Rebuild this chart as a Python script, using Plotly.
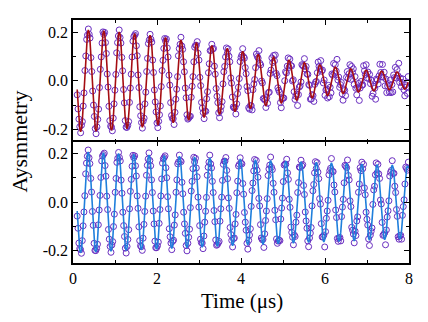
import plotly.graph_objects as go

# ---------------- top panel (time in microseconds) ----------------
t_top = [
.100,.120,.141,.161,.182,.202,.223,.243,.263,.284,.304,.325,.345,.365,.386,.406,.427,.447,
.468,.488,.508,.529,.549,.570,.590,.610,.631,.651,.672,.692,.713,.733,.753,.774,.794,.815,
.835,.855,.876,.896,.917,.937,.958,.978,.998,1.019,1.039,1.060,1.080,1.100,1.121,1.141,1.162,1.182,
1.203,1.223,1.243,1.264,1.284,1.305,1.325,1.345,1.366,1.386,1.407,1.427,1.448,1.468,1.488,1.509,1.529,1.550,
1.570,1.590,1.611,1.631,1.652,1.672,1.693,1.713,1.733,1.754,1.774,1.795,1.815,1.835,1.856,1.876,1.897,1.917,
1.938,1.958,1.978,1.999,2.019,2.040,2.060,2.080,2.101,2.121,2.142,2.162,2.183,2.203,2.223,2.244,2.264,2.285,
2.305,2.325,2.346,2.366,2.387,2.407,2.428,2.448,2.468,2.489,2.509,2.530,2.550,2.570,2.591,2.611,2.632,2.652,
2.673,2.693,2.713,2.734,2.754,2.775,2.795,2.815,2.836,2.856,2.877,2.897,2.918,2.938,2.958,2.979,2.999,3.020,
3.040,3.060,3.081,3.101,3.122,3.142,3.163,3.183,3.203,3.224,3.244,3.265,3.285,3.305,3.326,3.346,3.367,3.387,
3.408,3.428,3.448,3.469,3.489,3.510,3.530,3.550,3.571,3.591,3.612,3.632,3.653,3.673,3.693,3.714,3.734,3.755,
3.775,3.795,3.816,3.836,3.857,3.877,3.898,3.918,3.938,3.959,3.979,4.000,4.020,4.040,4.061,4.081,4.102,4.122,
4.143,4.163,4.183,4.204,4.224,4.245,4.265,4.285,4.306,4.326,4.347,4.367,4.388,4.408,4.428,4.449,4.469,4.490,
4.510,4.530,4.551,4.571,4.592,4.612,4.633,4.653,4.673,4.694,4.714,4.735,4.755,4.775,4.796,4.816,4.837,4.857,
4.878,4.898,4.918,4.939,4.959,4.980,5.000,5.020,5.041,5.061,5.082,5.102,5.123,5.143,5.163,5.184,5.204,5.225,
5.245,5.265,5.286,5.306,5.327,5.347,5.368,5.388,5.408,5.429,5.449,5.470,5.490,5.510,5.531,5.551,5.572,5.592,
5.613,5.633,5.653,5.674,5.694,5.715,5.735,5.755,5.776,5.796,5.817,5.837,5.858,5.878,5.898,5.919,5.939,5.960,
5.980,6.000,6.021,6.041,6.062,6.082,6.103,6.123,6.143,6.164,6.184,6.205,6.225,6.245,6.266,6.286,6.307,6.327,
6.348,6.368,6.388,6.409,6.429,6.450,6.470,6.490,6.511,6.531,6.552,6.572,6.593,6.613,6.633,6.654,6.674,6.695,
6.715,6.735,6.756,6.776,6.797,6.817,6.838,6.858,6.878,6.899,6.919,6.940,6.960,6.980,7.001,7.021,7.042,7.062,
7.083,7.103,7.123,7.144,7.164,7.185,7.205,7.225,7.246,7.266,7.287,7.307,7.328,7.348,7.368,7.389,7.409,7.430,
7.450,7.470,7.491,7.511,7.532,7.552,7.573,7.593,7.613,7.634,7.654,7.675,7.695,7.715,7.736,7.756,7.777,7.797,
7.818,7.838,7.858,7.879,7.899,7.920,7.940,7.960,7.981]

asym_top = [
-.058,-.116,-.158,-.189,-.214,-.183,-.168,-.104,-.050,.042,.102,.170,.188,.213,.191,.176,.095,.038,
-.042,-.100,-.147,-.197,-.218,-.190,-.159,-.117,-.028,.047,.098,.155,.201,.191,.199,.157,.112,.028,
-.026,-.105,-.164,-.187,-.191,-.206,-.154,-.095,-.039,.026,.115,.157,.184,.209,.178,.155,.096,.041,
-.036,-.091,-.164,-.191,-.192,-.183,-.168,-.089,-.030,.027,.098,.163,.182,.187,.194,.144,.103,.024,
-.028,-.107,-.144,-.172,-.195,-.166,-.154,-.095,-.047,.038,.092,.153,.168,.191,.171,.159,.085,.034,
-.038,-.087,-.128,-.174,-.193,-.167,-.140,-.104,-.024,.042,.084,.133,.174,.163,.172,.135,.098,.023,
-.018,-.090,-.143,-.155,-.156,-.180,-.130,-.076,-.035,.017,.103,.132,.150,.179,.143,.129,.078,.037,
-.030,-.070,-.140,-.158,-.154,-.148,-.146,-.068,-.023,.017,.078,.138,.146,.146,.161,.113,.085,.014,
-.020,-.089,-.112,-.131,-.156,-.124,-.126,-.074,-.045,.033,.070,.124,.125,.150,.130,.133,.060,.027,
-.032,-.064,-.090,-.132,-.152,-.123,-.106,-.086,-.013,.037,.059,.098,.135,.113,.131,.101,.078,.012,
-.010,-.067,-.108,-.112,-.110,-.137,-.095,-.053,-.027,.009,.079,.096,.106,.132,.099,.093,.054,.029,
-.024,-.041,-.111,-.117,-.102,-.103,-.120,-.037,-.013,.005,.054,.110,.100,.093,.124,.072,.065,-.001,
-.009,-.073,-.074,-.080,-.110,-.069,-.093,-.049,-.047,.030,.044,.094,.075,.104,.082,.106,.030,.021,
-.029,-.039,-.047,-.090,-.111,-.075,-.070,-.071,.000,.037,.032,.060,.094,.055,.089,.063,.061,-.001,
.004,-.045,-.077,-.064,-.055,-.102,-.057,-.026,-.021,-.005,.066,.062,.059,.091,.048,.059,.028,.026,
-.016,-.019,-.076,-.075,-.057,-.061,-.085,-.015,-.005,-.003,.033,.077,.059,.049,.083,.039,.044,-.009,
.003,-.060,-.038,-.034,-.071,-.019,-.066,-.027,-.050,.028,.023,.071,.030,.066,.040,.088,.003,.015,
-.027,-.016,-.007,-.054,-.080,-.034,-.040,-.061,.014,.038,.009,.029,.066,.006,.059,.034,.049,-.015,
.017,-.031,-.058,-.028,-.011,-.081,-.030,-.003,-.018,-.017,.062,.041,.026,.066,.011,.036,.009,.026,
-.012,.002,-.064,-.052,-.023,-.031,-.076,.007,.003,-.013,.020,.068,.034,.016,.067,.015,.035,-.021,
.007,-.049,-.021,-.012,-.047,.003,-.049,-.016,-.046,.024,.013,.055,.011,.046,.021,.072,-.007,.011,
-.024,-.007,.007,-.037,-.062,-.017,-.026,-.052,.017]

fit_top = [
-.036,-.105,-.161,-.197,-.210,-.197,-.161,-.105,-.036,.036,.104,.160,.196,.209,.196,.160,.104,.036,
-.036,-.104,-.159,-.195,-.208,-.195,-.159,-.104,-.036,.036,.103,.158,.194,.206,.194,.158,.103,.036,
-.035,-.102,-.156,-.192,-.204,-.192,-.156,-.102,-.035,.035,.101,.154,.189,.201,.189,.154,.101,.035,
-.034,-.099,-.152,-.186,-.198,-.186,-.152,-.099,-.034,.034,.098,.149,.183,.195,.183,.149,.098,.034,
-.033,-.096,-.147,-.180,-.191,-.180,-.147,-.096,-.033,.032,.094,.143,.176,.187,.176,.143,.094,.032,
-.032,-.091,-.140,-.172,-.183,-.172,-.140,-.091,-.032,.031,.089,.136,.167,.178,.167,.136,.089,.031,
-.030,-.086,-.132,-.162,-.173,-.162,-.132,-.086,-.030,.029,.084,.128,.157,.168,.157,.128,.084,.029,
-.028,-.081,-.124,-.152,-.162,-.152,-.124,-.081,-.028,.027,.078,.120,.147,.157,.147,.120,.078,.027,
-.026,-.075,-.116,-.142,-.151,-.142,-.116,-.075,-.026,.025,.072,.111,.136,.145,.136,.111,.072,.025,
-.024,-.069,-.106,-.130,-.139,-.130,-.106,-.069,-.024,.023,.066,.102,.125,.133,.125,.102,.066,.023,
-.022,-.063,-.097,-.119,-.127,-.119,-.097,-.063,-.022,.021,.060,.092,.113,.121,.113,.092,.060,.021,
-.020,-.057,-.088,-.108,-.115,-.108,-.088,-.057,-.020,.019,.054,.083,.102,.109,.102,.083,.054,.019,
-.018,-.051,-.079,-.096,-.103,-.096,-.079,-.051,-.018,.017,.048,.074,.091,.097,.091,.074,.048,.017,
-.016,-.046,-.070,-.086,-.091,-.086,-.070,-.046,-.016,.015,.043,.065,.080,.086,.080,.065,.043,.015,
-.014,-.040,-.061,-.075,-.080,-.075,-.061,-.040,-.014,.013,.037,.057,.070,.075,.070,.057,.037,.013,
-.012,-.035,-.053,-.066,-.070,-.066,-.053,-.035,-.012,.011,.033,.050,.061,.065,.061,.050,.033,.011,
-.010,-.030,-.046,-.057,-.061,-.057,-.046,-.030,-.010,.010,.028,.043,.053,.056,.053,.043,.028,.010,
-.009,-.026,-.040,-.049,-.052,-.049,-.040,-.026,-.009,.008,.024,.037,.046,.049,.046,.037,.024,.008,
-.008,-.023,-.035,-.043,-.046,-.043,-.035,-.023,-.008,.008,.022,.033,.041,.043,.041,.033,.022,.008,
-.007,-.021,-.031,-.039,-.041,-.039,-.031,-.021,-.007,.007,.020,.030,.037,.039,.037,.030,.020,.007,
-.006,-.019,-.029,-.035,-.037,-.035,-.029,-.019,-.006,.006,.018,.027,.034,.036,.034,.027,.018,.006,
-.006,-.017,-.026,-.032,-.034,-.032,-.026,-.017,-.006]

# ---------------- bottom panel ----------------
t_bot = [
.100,.120,.140,.160,.180,.201,.221,.241,.261,.281,.301,.321,.341,.361,.382,.402,.422,.442,
.462,.482,.502,.522,.542,.563,.583,.603,.623,.643,.663,.683,.703,.723,.744,.764,.784,.804,
.824,.844,.864,.884,.904,.925,.945,.965,.985,1.005,1.025,1.045,1.065,1.085,1.106,1.126,1.146,1.166,
1.186,1.206,1.226,1.246,1.266,1.287,1.307,1.327,1.347,1.367,1.387,1.407,1.427,1.447,1.468,1.488,1.508,1.528,
1.548,1.568,1.588,1.608,1.628,1.649,1.669,1.689,1.709,1.729,1.749,1.769,1.789,1.809,1.830,1.850,1.870,1.890,
1.910,1.930,1.950,1.970,1.990,2.011,2.031,2.051,2.071,2.091,2.111,2.131,2.151,2.171,2.192,2.212,2.232,2.252,
2.272,2.292,2.312,2.332,2.352,2.373,2.393,2.413,2.433,2.453,2.473,2.493,2.513,2.533,2.554,2.574,2.594,2.614,
2.634,2.654,2.674,2.694,2.714,2.735,2.755,2.775,2.795,2.815,2.835,2.855,2.875,2.895,2.916,2.936,2.956,2.976,
2.996,3.016,3.036,3.056,3.076,3.097,3.117,3.137,3.157,3.177,3.197,3.217,3.237,3.257,3.278,3.298,3.318,3.338,
3.358,3.378,3.398,3.418,3.438,3.459,3.479,3.499,3.519,3.539,3.559,3.579,3.599,3.619,3.640,3.660,3.680,3.700,
3.720,3.740,3.760,3.780,3.800,3.821,3.841,3.861,3.881,3.901,3.921,3.941,3.961,3.981,4.002,4.022,4.042,4.062,
4.082,4.102,4.122,4.142,4.162,4.183,4.203,4.223,4.243,4.263,4.283,4.303,4.323,4.343,4.364,4.384,4.404,4.424,
4.444,4.464,4.484,4.504,4.524,4.545,4.565,4.585,4.605,4.625,4.645,4.665,4.685,4.705,4.726,4.746,4.766,4.786,
4.806,4.826,4.846,4.866,4.886,4.907,4.927,4.947,4.967,4.987,5.007,5.027,5.047,5.067,5.088,5.108,5.128,5.148,
5.168,5.188,5.208,5.228,5.248,5.269,5.289,5.309,5.329,5.349,5.369,5.389,5.409,5.429,5.450,5.470,5.490,5.510,
5.530,5.550,5.570,5.590,5.610,5.631,5.651,5.671,5.691,5.711,5.731,5.751,5.771,5.791,5.812,5.832,5.852,5.872,
5.892,5.912,5.932,5.952,5.972,5.993,6.013,6.033,6.053,6.073,6.093,6.113,6.133,6.153,6.174,6.194,6.214,6.234,
6.254,6.274,6.294,6.314,6.334,6.355,6.375,6.395,6.415,6.435,6.455,6.475,6.495,6.515,6.536,6.556,6.576,6.596,
6.616,6.636,6.656,6.676,6.696,6.717,6.737,6.757,6.777,6.797,6.817,6.837,6.857,6.877,6.898,6.918,6.938,6.958,
6.978,6.998,7.018,7.038,7.058,7.079,7.099,7.119,7.139,7.159,7.179,7.199,7.219,7.239,7.260,7.280,7.300,7.320,
7.340,7.360,7.380,7.400,7.420,7.441,7.461,7.481,7.501,7.521,7.541,7.561,7.581,7.601,7.622,7.642,7.662,7.682,
7.702,7.722,7.742,7.762,7.782,7.803,7.823,7.843,7.863,7.883,7.903,7.923,7.943,7.963,7.984]

asym_bot = [
-.057,-.107,-.168,-.191,-.195,-.210,-.158,-.097,-.040,.027,.117,.161,.189,.215,.183,.159,.098,.042,
-.038,-.095,-.169,-.198,-.199,-.190,-.173,-.093,-.032,.028,.102,.170,.190,.196,.202,.151,.107,.025,
-.030,-.112,-.152,-.182,-.206,-.176,-.162,-.100,-.049,.041,.098,.164,.181,.205,.184,.170,.091,.037,
-.041,-.096,-.141,-.189,-.209,-.182,-.153,-.113,-.027,.045,.094,.148,.193,.183,.191,.150,.108,.026,
-.025,-.101,-.158,-.179,-.183,-.198,-.148,-.091,-.038,.025,.111,.152,.178,.203,.172,.150,.092,.040,
-.036,-.089,-.160,-.187,-.187,-.179,-.164,-.087,-.030,.026,.096,.161,.179,.184,.191,.142,.101,.023,
-.027,-.109,-.142,-.168,-.195,-.161,-.156,-.094,-.052,.041,.092,.158,.166,.194,.171,.167,.082,.035,
-.041,-.089,-.128,-.178,-.200,-.169,-.144,-.111,-.022,.046,.086,.138,.185,.166,.181,.141,.105,.021,
-.020,-.096,-.152,-.166,-.168,-.191,-.139,-.082,-.037,.020,.111,.144,.165,.194,.158,.141,.086,.040,
-.034,-.080,-.155,-.177,-.174,-.167,-.161,-.078,-.027,.021,.090,.156,.169,.169,.184,.131,.097,.018,
-.025,-.104,-.133,-.157,-.184,-.150,-.147,-.089,-.050,.039,.087,.149,.156,.183,.161,.158,.077,.033,
-.042,-.082,-.115,-.169,-.193,-.157,-.135,-.109,-.017,.048,.079,.129,.176,.149,.172,.132,.103,.016,
-.015,-.092,-.147,-.154,-.153,-.186,-.130,-.075,-.036,.015,.110,.137,.153,.186,.144,.134,.078,.041,
-.033,-.072,-.151,-.169,-.160,-.156,-.158,-.069,-.024,.017,.085,.153,.157,.156,.177,.121,.094,.012,
-.021,-.102,-.124,-.144,-.175,-.135,-.141,-.082,-.053,.040,.081,.145,.143,.173,.149,.155,.069,.032,
-.040,-.077,-.107,-.159,-.183,-.147,-.127,-.104,-.015,.047,.073,.121,.167,.139,.163,.124,.097,.015,
-.008,-.088,-.143,-.142,-.135,-.184,-.121,-.066,-.036,.008,.113,.130,.140,.180,.128,.126,.071,.042,
-.032,-.063,-.149,-.161,-.147,-.145,-.159,-.059,-.020,.012,.080,.152,.148,.142,.174,.110,.092,.006,
-.018,-.103,-.115,-.131,-.167,-.119,-.137,-.077,-.060,.041,.075,.142,.130,.165,.138,.156,.059,.031,
-.041,-.070,-.094,-.151,-.178,-.135,-.120,-.106,-.009,.051,.066,.113,.162,.121,.156,.117,.098,.009,
-.007,-.083,-.136,-.133,-.126,-.175,-.114,-.061,-.035,.006,.108,.123,.131,.171,.119,.119,.066,.040,
-.030,-.058,-.142,-.152,-.138,-.136,-.152,-.054,-.018,.010,.075,.145,.139,.132,.165]

fit_bot = [
-.036,-.104,-.160,-.196,-.208,-.196,-.160,-.104,-.036,.036,.103,.158,.194,.207,.194,.158,.103,.036,
-.036,-.103,-.157,-.193,-.205,-.193,-.157,-.103,-.036,.035,.102,.156,.191,.204,.191,.156,.102,.035,
-.035,-.101,-.155,-.190,-.202,-.190,-.155,-.101,-.035,.035,.100,.154,.189,.201,.189,.154,.100,.035,
-.035,-.100,-.153,-.187,-.199,-.187,-.153,-.100,-.035,.034,.099,.151,.186,.198,.186,.151,.099,.034,
-.034,-.098,-.150,-.184,-.196,-.184,-.150,-.098,-.034,.034,.097,.149,.183,.195,.183,.149,.097,.034,
-.034,-.097,-.148,-.182,-.193,-.182,-.148,-.097,-.034,.033,.096,.147,.180,.192,.180,.147,.096,.033,
-.033,-.095,-.146,-.179,-.190,-.179,-.146,-.095,-.033,.033,.094,.145,.177,.189,.177,.145,.094,.033,
-.033,-.094,-.144,-.176,-.187,-.176,-.144,-.094,-.033,.032,.093,.142,.175,.186,.175,.142,.093,.032,
-.032,-.092,-.141,-.173,-.185,-.173,-.141,-.092,-.032,.032,.092,.140,.172,.183,.172,.140,.092,.032,
-.032,-.091,-.139,-.171,-.182,-.171,-.139,-.091,-.032,.031,.090,.138,.170,.180,.170,.138,.090,.031,
-.031,-.090,-.137,-.168,-.179,-.168,-.137,-.090,-.031,.031,.089,.136,.167,.178,.167,.136,.089,.031,
-.031,-.088,-.135,-.166,-.176,-.166,-.135,-.088,-.031,.030,.088,.134,.164,.175,.164,.134,.088,.030,
-.030,-.087,-.133,-.163,-.174,-.163,-.133,-.087,-.030,.030,.086,.132,.162,.172,.162,.132,.086,.030,
-.030,-.086,-.131,-.161,-.171,-.161,-.131,-.086,-.030,.029,.085,.130,.159,.170,.159,.130,.085,.029,
-.029,-.084,-.129,-.158,-.169,-.158,-.129,-.084,-.029,.029,.084,.128,.157,.167,.157,.128,.084,.029,
-.029,-.083,-.127,-.156,-.166,-.156,-.127,-.083,-.029,.029,.082,.126,.155,.165,.155,.126,.082,.029,
-.028,-.082,-.125,-.154,-.163,-.154,-.125,-.082,-.028,.028,.081,.124,.152,.162,.152,.124,.081,.028,
-.028,-.081,-.123,-.151,-.161,-.151,-.123,-.081,-.028,.028,.080,.122,.150,.160,.150,.122,.080,.028,
-.028,-.079,-.121,-.149,-.159,-.149,-.121,-.079,-.028,.027,.079,.120,.148,.157,.148,.120,.079,.027,
-.027,-.078,-.120,-.147,-.156,-.147,-.120,-.078,-.027,.027,.078,.119,.146,.155,.146,.119,.078,.027,
-.027,-.077,-.118,-.145,-.154,-.145,-.118,-.077,-.027,.026,.076,.117,.143,.153,.143,.117,.076,.026,
-.026,-.076,-.116,-.142,-.152,-.142,-.116,-.076,-.026,.026,.075,.115,.141,.150,.141]

x_ticks = [0, 2, 4, 6, 8]
x_ticktext = ["0", "2", "4", "6", "8"]
y_ticks = [-0.2, 0.0, 0.2]
y_ticktext = ["-0.2", "0.0", "0.2"]

MARKER_COLOR = "#6a2ec0"
TOP_LINE = "#a50d12"
BOT_LINE = "#1f7fdc"
FONT = "Liberation Serif"
AXIS_W = 1.5


def trim(a, b):
    n = min(len(a), len(b))
    return a[:n], b[:n]


fig = go.Figure()
x1, y1 = trim(t_top, asym_top)
fig.add_trace(go.Scatter(x=x1, y=y1, mode="markers", xaxis="x", yaxis="y",
                         marker=dict(symbol="circle-open", size=6, color=MARKER_COLOR,
                                     line=dict(width=1, color=MARKER_COLOR)),
                         showlegend=False, hoverinfo="skip"))
x1f, y1f = trim(t_top, fit_top)
fig.add_trace(go.Scatter(x=x1f, y=y1f, mode="lines", xaxis="x", yaxis="y",
                         line=dict(color=TOP_LINE, width=1.6), showlegend=False))
x2, y2 = trim(t_bot, asym_bot)
fig.add_trace(go.Scatter(x=x2, y=y2, mode="markers", xaxis="x2", yaxis="y2",
                         marker=dict(symbol="circle-open", size=6, color=MARKER_COLOR,
                                     line=dict(width=1, color=MARKER_COLOR)),
                         showlegend=False, hoverinfo="skip"))
x2f, y2f = trim(t_bot, fit_bot)
fig.add_trace(go.Scatter(x=x2f, y=y2f, mode="lines", xaxis="x2", yaxis="y2",
                         line=dict(color=BOT_LINE, width=1.6), showlegend=False))
# empty trace so the top-edge axis of the upper panel is drawn
fig.add_trace(go.Scatter(x=[], y=[], xaxis="x3", yaxis="y", showlegend=False, hoverinfo="skip"))

tick_common = dict(ticks="inside", ticklen=5, tickwidth=1.2, tickcolor="black",
                   showgrid=False, zeroline=False,
                   tickfont=dict(family=FONT, size=16, color="black"))
framed = dict(showline=True, linecolor="black", linewidth=AXIS_W, mirror="ticks", **tick_common)

xminor = dict(dtick=1, tick0=0, ticks="inside", ticklen=3, tickwidth=1.2, tickcolor="black", showgrid=False)
yminor = dict(dtick=0.1, tick0=0, ticks="inside", ticklen=3, tickwidth=1.2, tickcolor="black", showgrid=False)

fig.update_layout(
    width=428, height=322,
    margin=dict(l=73, r=19, t=20, b=59),
    paper_bgcolor="white", plot_bgcolor="white",
    font=dict(family=FONT, size=16, color="black"),
    # upper panel: bottom edge ticks only (the divider line comes from the lower panel frame)
    xaxis=dict(domain=[0, 1], anchor="y", range=[0, 8], tickvals=x_ticks, ticktext=x_ticktext,
               showticklabels=False, showline=False, mirror=False, side="bottom",
               minor=xminor, **tick_common),
    # upper panel: top edge line + ticks
    xaxis3=dict(overlaying="x", anchor="y", side="top", range=[0, 8], tickvals=x_ticks,
                ticktext=x_ticktext, showticklabels=False, showline=True, linecolor="black",
                linewidth=AXIS_W, mirror=False, minor=xminor, **tick_common),
    yaxis=dict(domain=[0.5, 1], anchor="x", range=[-0.25, 0.25], tickvals=y_ticks,
               ticktext=y_ticktext, minor=yminor, **framed),
    xaxis2=dict(domain=[0, 1], anchor="y2", range=[0, 8], tickvals=x_ticks, ticktext=x_ticktext,
                minor=xminor, **framed),
    yaxis2=dict(domain=[0, 0.5], anchor="x2", range=[-0.25, 0.25], tickvals=y_ticks,
                ticktext=y_ticktext, minor=yminor, **framed),
    annotations=[
        dict(text="Aysmmetry", xref="paper", yref="paper", x=-0.158, y=0.5,
             textangle=-90, showarrow=False, xanchor="center", yanchor="middle",
             font=dict(family=FONT, size=22, color="black")),
        dict(text="Time (\u03bcs)", xref="paper", yref="paper", x=0.502, y=-0.155,
             showarrow=False, xanchor="center", yanchor="middle",
             font=dict(family=FONT, size=21, color="black")),
    ],
)

fig.write_html("out.html")
